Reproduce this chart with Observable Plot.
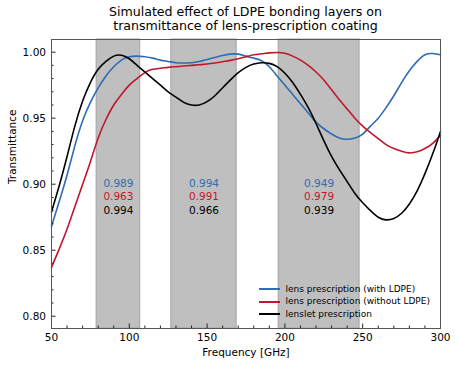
<!DOCTYPE html>
<html><head><meta charset="utf-8">
<script src="https://cdn.jsdelivr.net/npm/d3@7"></script>
<script src="https://cdn.jsdelivr.net/npm/@observablehq/plot@0.6"></script>
<style>
body{margin:0;background:#fff;font-family:"DejaVu Sans",sans-serif;}
#wrap{position:relative;width:458px;height:366px;overflow:hidden;}
#title{position:absolute;left:51px;width:389px;top:5px;text-align:center;font-size:12.6px;line-height:14px;color:#000;}
#chart{position:absolute;left:0;top:0;}
.leg{position:absolute;font-size:9px;line-height:11px;color:#000;white-space:nowrap;}
.leg span{position:absolute;left:0;top:4.5px;width:21px;height:2px;}
.leg b{font-weight:normal;position:absolute;left:26.5px;top:0;}
</style></head>
<body><div id="wrap"><div id="chart"></div><div id="title">Simulated effect of LDPE bonding layers on<br>transmittance of lens-prescription coating</div><div id="legend"></div></div>
<script>
const freq = [50,55,60,65,70,75,80,85,90,95,100,105,110,115,120,125,130,135,140,145,150,155,160,165,170,175,180,185,190,195,200,205,210,215,220,225,230,235,240,245,250,255,260,265,270,275,280,285,290,295,300];
const lensWithLDPE = [0.868,0.887,0.907,0.929,0.948,0.962,0.973,0.982,0.989,0.994,0.9965,0.997,0.9965,0.9955,0.994,0.993,0.992,0.9918,0.992,0.993,0.9945,0.996,0.9975,0.9985,0.9985,0.997,0.9955,0.9935,0.989,0.982,0.975,0.968,0.961,0.954,0.947,0.942,0.938,0.935,0.934,0.935,0.938,0.944,0.950,0.958,0.967,0.977,0.986,0.993,0.998,0.999,0.998];
const lensWithoutLDPE = [0.837,0.851,0.866,0.883,0.900,0.917,0.935,0.949,0.960,0.968,0.975,0.980,0.9845,0.987,0.9878,0.9885,0.989,0.9895,0.990,0.9905,0.991,0.9918,0.9928,0.9938,0.995,0.9965,0.998,0.9988,0.9995,0.9998,0.9992,0.997,0.994,0.990,0.985,0.979,0.9715,0.964,0.957,0.950,0.944,0.939,0.9345,0.930,0.927,0.925,0.9237,0.9245,0.927,0.931,0.937];
const lenslet = [0.879,0.899,0.921,0.944,0.963,0.977,0.987,0.993,0.997,0.9977,0.995,0.990,0.985,0.980,0.975,0.970,0.966,0.962,0.960,0.960,0.9625,0.967,0.973,0.979,0.9845,0.9885,0.991,0.992,0.9915,0.989,0.984,0.977,0.968,0.958,0.946,0.933,0.921,0.911,0.902,0.893,0.886,0.880,0.875,0.873,0.874,0.878,0.885,0.895,0.908,0.923,0.940];

const seriesNames = ["lens prescription (with LDPE)","lens prescription (without LDPE)","lenslet prescription"];
const seriesColors = ["#2c6db3","#c1172c","#000000"];
const seriesValues = [lensWithLDPE, lensWithoutLDPE, lenslet];

const bandLo = [79, 127, 196];
const bandHi = [107, 169, 248];
const bandWithLDPE = ["0.989","0.994","0.949"];
const bandWithoutLDPE = ["0.963","0.991","0.979"];
const bandLenslet = ["0.994","0.966","0.939"];
const bandTexts = [bandWithLDPE, bandWithoutLDPE, bandLenslet];

const xMajor = [50,100,150,200,250,300];
const xMinor = d3.range(60,300,10).filter(v => v % 50 !== 0);
const yMajor = [0.80,0.85,0.90,0.95,1.00];
const yMinor = [0.81,0.82,0.83,0.84,0.86,0.87,0.88,0.89,0.91,0.92,0.93,0.94,0.96,0.97,0.98,0.99];

const W = 458, H = 366, mL = 51, mR = 18, mT = 39, mB = 38;
const pw = W - mL - mR, ph = H - mT - mB;

const bands = bandLo.map((lo, i) => ({lo, hi: bandHi[i], c: (lo + bandHi[i]) / 2}));
const lineData = seriesValues.flatMap((vals, s) => vals.map((v, i) => ({f: freq[i], t: v, s})));

const marks = [
  Plot.rect(bands, {x1: "lo", x2: "hi", fill: "#bfbfbf", stroke: "#a3a3a3", strokeWidth: 1})
];
seriesValues.forEach((vals, s) => {
  marks.push(Plot.line(lineData.filter(d => d.s === s), {x: "f", y: "t", stroke: seriesColors[s], strokeWidth: 1.6, curve: "natural"}));
});
bandTexts.forEach((arr, s) => {
  marks.push(Plot.text(bands.map((b, i) => ({c: b.c, txt: arr[i]})), {
    x: "c", y: () => 0.9005, text: "txt", fill: seriesColors[s], fontSize: 10.5, dy: s * 13.5
  }));
});
marks.push(
  Plot.tickX(xMajor, {x: d => d, insetTop: ph - 4.5, stroke: "#222"}),
  Plot.tickX(xMinor, {x: d => d, insetTop: ph - 2.5, stroke: "#222"}),
  Plot.tickY(yMajor, {y: d => d, insetRight: pw - 4.5, stroke: "#222"}),
  Plot.tickY(yMinor, {y: d => d, insetRight: pw - 2.5, stroke: "#222"}),
  Plot.text(xMajor, {x: d => d, text: d => String(d), frameAnchor: "bottom", lineAnchor: "middle", dy: 9.5, fontSize: 10.5, fill: "#000"}),
  Plot.text(yMajor, {y: d => d, text: d => d.toFixed(2), frameAnchor: "left", textAnchor: "end", dx: -5.5, fontSize: 10.5, fill: "#000"}),
  Plot.text(["Frequency [GHz]"], {frameAnchor: "bottom", lineAnchor: "middle", dy: 24, fontSize: 10.5, fill: "#000"}),
  Plot.text(["Transmittance"], {frameAnchor: "left", rotate: -90, lineAnchor: "middle", dx: -38.5, fontSize: 10.5, fill: "#000"}),
  Plot.frame({stroke: "#555", strokeWidth: 1})
);

const chart = Plot.plot({
  width: W, height: H,
  marginLeft: mL, marginRight: mR, marginTop: mT, marginBottom: mB,
  x: {domain: [50, 300], axis: null},
  y: {domain: [0.7907, 1.0096], axis: null},
  style: {fontFamily: "DejaVu Sans", background: "white", color: "#000"},
  marks
});
document.getElementById("chart").appendChild(chart);

const legend = document.getElementById("legend");
seriesNames.forEach((name, i) => {
  const row = document.createElement("div");
  row.className = "leg";
  row.style.left = "259px";
  row.style.top = (283.5 + i * 12.5) + "px";
  const sw = document.createElement("span");
  sw.style.backgroundColor = seriesColors[i];
  const tx = document.createElement("b");
  tx.textContent = name;
  row.appendChild(sw); row.appendChild(tx);
  legend.appendChild(row);
});
</script>
</body></html>
